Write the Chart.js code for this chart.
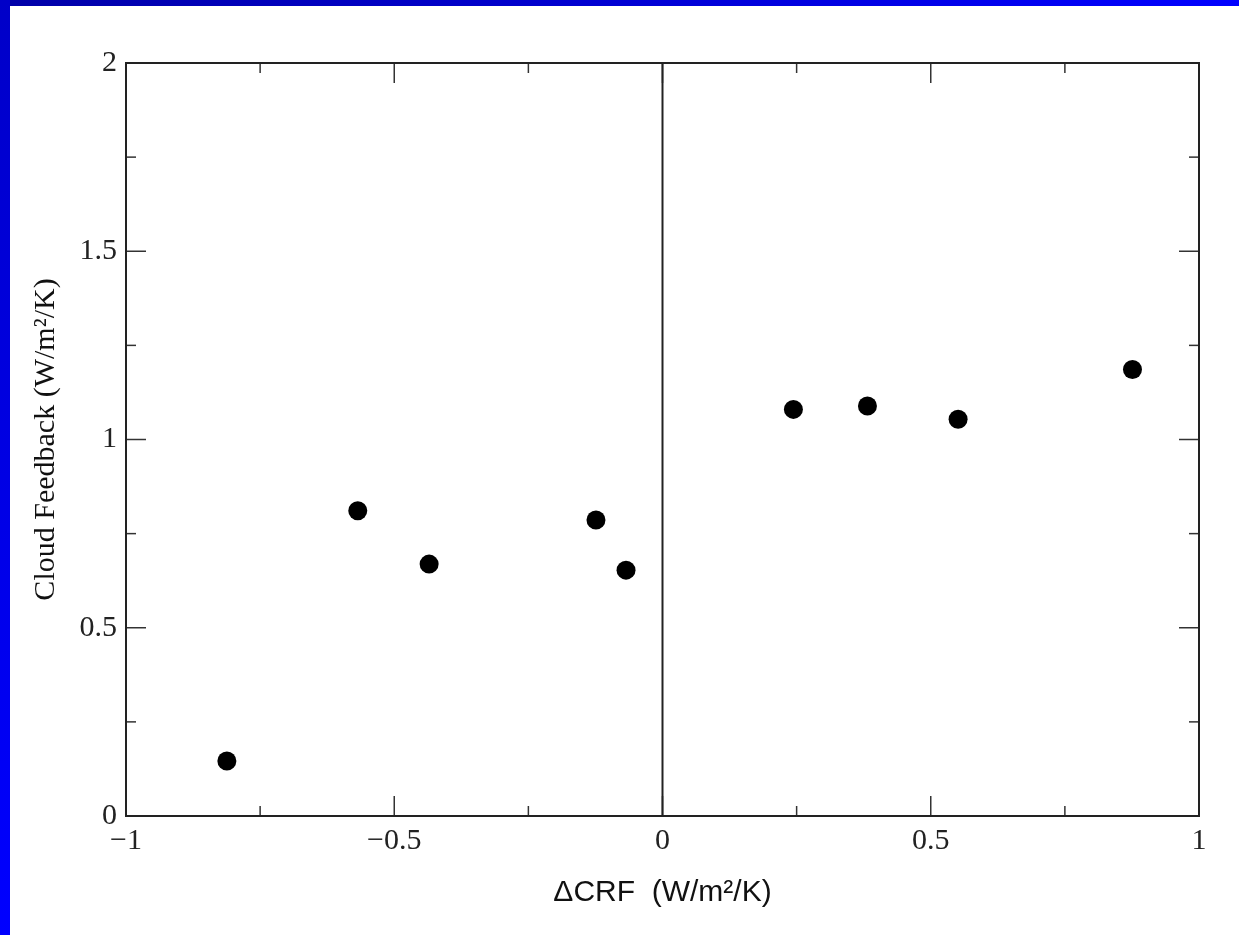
<!DOCTYPE html>
<html><head><meta charset="utf-8">
<script src="https://cdn.jsdelivr.net/npm/chart.js@4/dist/chart.umd.min.js"></script>
<style>
html,body{margin:0;padding:0;background:#fff;}
#wrap{position:relative;width:1239px;height:935px;background:#fff;overflow:hidden;}
#topbar{position:absolute;left:0;top:0;width:1239px;height:6px;background:linear-gradient(to right,#0000a8,#0000ff);}
#leftbar{position:absolute;left:0;top:0;width:10px;height:935px;background:linear-gradient(to bottom,#0000c8,#0000ff);}
canvas{position:absolute;left:0;top:0;}
</style></head><body>
<div id="wrap"><div id="topbar"></div><div id="leftbar"></div><canvas id="c" width="1239" height="935"></canvas></div>
<script>
const deltaCRF      = [-0.812, -0.568, -0.435, -0.124, -0.068, 0.244, 0.382, 0.551, 0.876];
const cloudFeedback = [ 0.146,  0.811,  0.669,  0.786,  0.653, 1.080, 1.089, 1.054, 1.186];
const xTickLabels = {"-1":"\u22121", "-0.5":"\u22120.5", "0":"0", "0.5":"0.5", "1":"1"};
const yTickLabels = {"0":"0", "0.5":"0.5", "1":"1", "1.5":"1.5", "2":"2"};
const xTitle = "\u0394CRF  (W/m\u00B2/K)";
const yTitle = "Cloud Feedback (W/m\u00B2/K)";

const key = v => String(Math.round(v * 100) / 100);
const isMajor = v => Math.abs(v * 2 - Math.round(v * 2)) < 1e-6;

const framePlugin = {
  id: 'frame',
  beforeDatasetsDraw(chart) {
    const {ctx, chartArea: a, scales: {x, y}} = chart;
    const line = (x1, y1, x2, y2) => { ctx.beginPath(); ctx.moveTo(x1, y1); ctx.lineTo(x2, y2); ctx.stroke(); };
    ctx.save();
    ctx.strokeStyle = '#333';
    ctx.lineWidth = 1.5;
    x.ticks.forEach(t => {
      if (t.value <= x.min || t.value >= x.max) return;
      const px = x.getPixelForValue(t.value);
      const len = isMajor(t.value) ? 20 : 10;
      line(px, a.bottom, px, a.bottom - len);
      line(px, a.top, px, a.top + len);
    });
    y.ticks.forEach(t => {
      if (t.value <= y.min || t.value >= y.max) return;
      const py = y.getPixelForValue(t.value);
      const len = isMajor(t.value) ? 20 : 10;
      line(a.left, py, a.left + len, py);
      line(a.right, py, a.right - len, py);
    });
    ctx.strokeStyle = '#222';
    ctx.lineWidth = 2;
    const zx = x.getPixelForValue(0);
    line(zx, a.top, zx, a.bottom);
    ctx.strokeRect(a.left, a.top, a.right - a.left, a.bottom - a.top);
    ctx.restore();
  }
};

new Chart(document.getElementById('c'), {
  type: 'scatter',
  data: {
    datasets: [{
      data: deltaCRF.map((v, i) => ({x: v, y: cloudFeedback[i]})),
      backgroundColor: '#000',
      borderWidth: 0,
      pointRadius: 9.5,
      pointHoverRadius: 9.5
    }]
  },
  options: {
    responsive: false,
    animation: false,
    devicePixelRatio: 1,
    layout: {padding: {top: 63, right: 40, left: 0, bottom: 0}},
    plugins: {legend: {display: false}, tooltip: {enabled: false}},
    scales: {
      x: {
        type: 'linear', min: -1, max: 1,
        grid: {display: false, drawTicks: false},
        border: {display: false},
        afterFit(s) { s.height = 119; },
        ticks: {
          stepSize: 0.25, autoSkip: false, maxRotation: 0, padding: 7,
          color: '#222',
          font: {family: 'Liberation Serif', size: 30},
          callback: v => xTickLabels[key(v)] || ''
        },
        title: {
          display: true, text: xTitle, color: '#111',
          font: {family: 'Liberation Sans', size: 30},
          padding: {top: 0, bottom: 24}
        }
      },
      y: {
        type: 'linear', min: 0, max: 2,
        grid: {display: false, drawTicks: false},
        border: {display: false},
        afterFit(s) { s.width = 126; },
        ticks: {
          stepSize: 0.25, autoSkip: false, padding: 9,
          color: '#222',
          font: {family: 'Liberation Serif', size: 30},
          callback: v => yTickLabels[key(v)] || ''
        },
        title: {
          display: true, text: yTitle, color: '#111',
          font: {family: 'Liberation Serif', size: 30},
          padding: {top: 28, bottom: 0}
        }
      }
    }
  },
  plugins: [framePlugin]
});
</script>
</body></html>
